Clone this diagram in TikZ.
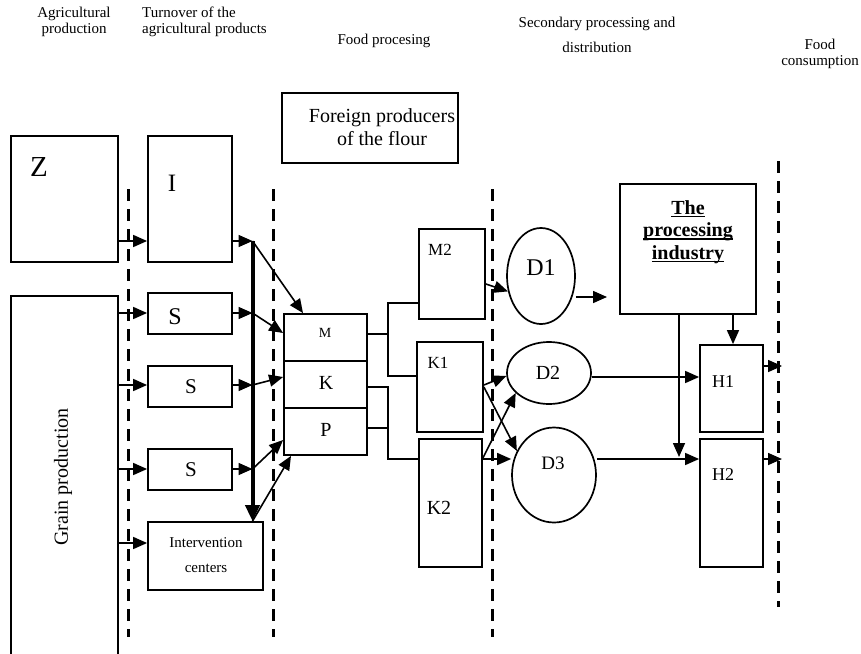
\documentclass[tikz,border=0pt]{standalone}
\usepackage{fontspec}
\setmainfont{Liberation Serif}
\usetikzlibrary{arrows.meta,shapes.geometric}
% underline drawn as a rule under the word
\newcommand\undr[1]{\setbox0\hbox{#1}\rlap{\rule[-3pt]{\wd0}{1.5pt}}\box0}
\begin{document}
\begin{tikzpicture}[x=1pt,y=-1pt,
  box/.style={draw,line width=1.8pt,inner sep=0pt,rectangle},
  oval/.style={draw,line width=1.7pt,inner sep=0pt,ellipse},
  lbl/.style={inner sep=0pt,font=\fontsize{#1}{#1}\selectfont},
  lbl/.default=20,
  conn/.style={line width=1.6pt},
  arr/.style={line width=1.6pt,-{Triangle[length=14pt,width=12pt]}},
  busline/.style={line width=4pt,-{Triangle[length=16pt,width=14pt]}},
  divider/.style={line width=3pt,dash pattern=on 12pt off 8pt},
  head/.style={inner sep=0pt,align=center,font=\fontsize{15}{15.5}\selectfont},
]
\useasboundingbox (0,0) rectangle (861,653);
\clip (0,0) rectangle (861,653);

% ---- stage headings
\node[head] (h1) at (74,22) {Agricultural\\production};
\node[head,align=left,anchor=west] (h2) at (142,22) {Turnover of the\\agricultural products};
\node[head] (h3) at (384,41) {Food procesing};
\node[head,font=\fontsize{15}{25}\selectfont] (h4) at (597,35) {Secondary processing and\\distribution};
\node[head] (h5) at (820,54) {Food\\consumption};

% ---- stage dividers
\draw[divider] (128,189) -- (128,637);
\draw[divider] (273,189) -- (273,637);
\draw[divider] (492,189) -- (492,637);
\draw[divider] (778,161) -- (778,607);

% ---- boxes
\node[box,minimum width=107,minimum height=126] (Z) at (64.5,199) {};
\node[box,minimum width=107,minimum height=420] (G) at (64.5,506) {};
\node[box,minimum width=84,minimum height=126] (I) at (190,199) {};
\node[box,minimum width=84,minimum height=41] (S1) at (190,313.5) {};
\node[box,minimum width=84,minimum height=41] (S2) at (190,386.5) {};
\node[box,minimum width=84,minimum height=41] (S3) at (190,469.5) {};
\node[box,minimum width=115,minimum height=68] (Iv) at (205.5,556) {};
\node[box,minimum width=176,minimum height=70] (F) at (370,128) {};
\node[box,minimum width=83,minimum height=47] (M) at (325.5,337.5) {};
\node[box,minimum width=83,minimum height=47] (K) at (325.5,384.5) {};
\node[box,minimum width=83,minimum height=47] (P) at (325.5,431.5) {};
\node[box,minimum width=66,minimum height=90] (M2) at (452,274) {};
\node[box,minimum width=66,minimum height=90] (K1) at (450,387) {};
\node[box,minimum width=63,minimum height=128] (K2) at (450.5,503) {};
\node[oval,minimum width=68,minimum height=96] (D1) at (541,276) {};
\node[oval,minimum width=84,minimum height=62] (D2) at (549,373) {};
\node[oval,minimum width=84,minimum height=95] (D3) at (554,475) {};
\node[box,minimum width=136,minimum height=130] (Pr) at (688,249) {};
\node[box,minimum width=63,minimum height=87] (H1) at (731.5,388.5) {};
\node[box,minimum width=63,minimum height=128] (H2) at (731.5,503) {};

% ---- texts
\node[lbl=29] (Zt) at (39,167) {Z};
\node[lbl=20,rotate=90] (Gt) at (63,477) {Grain production};
\node[lbl=25] (It) at (172,183) {I};
\node[lbl=24] (S1t) at (175,317) {S};
\node[lbl=21] (S2t) at (191,387) {S};
\node[lbl=21] (S3t) at (191,470) {S};
\node[lbl,align=center,font=\fontsize{15}{25}\selectfont] (Ivt) at (206,555) {Intervention\\centers};
\node[lbl,align=center,font=\fontsize{20}{23}\selectfont] (Ft) at (382,127) {Foreign producers\\of the flour};
\node[lbl=14] (Mt) at (325,333) {M};
\node[lbl=20] (Kt) at (326,383) {K};
\node[lbl=20] (Pt) at (326,430) {P};
\node[lbl=17] (M2t) at (440,250) {M2};
\node[lbl=17] (K1t) at (438,363) {K1};
\node[lbl=20] (K2t) at (439,508) {K2};
\node[lbl=24] (D1t) at (541,268) {D1};
\node[lbl=20] (D2t) at (548,373) {D2};
\node[lbl=19] (D3t) at (553,463) {D3};
\node[lbl=18] (H1t) at (723,382) {H1};
\node[lbl=18] (H2t) at (723,475) {H2};
\node[lbl,align=center,font=\fontsize{20}{22.5}\selectfont\bfseries] (Prt) at (688,232)
  {\undr{The}\\\undr{processing}\\\undr{industry}};

% ---- collecting line
\coordinate (bI)  at (252.5,241);
\coordinate (bS1) at (252.5,313);
\coordinate (bS2) at (252.5,385);
\coordinate (bS3) at (252.5,469);
\coordinate (bEnd) at (bI |- Iv.north);
\draw[busline] (bI) -- (bEnd);

% ---- inputs from agricultural production
\draw[arr] (Z.east |- 0,241) -- (I.west |- 0,241);
\draw[arr] (G.east |- 0,313) -- (S1.west |- 0,313);
\draw[arr] (G.east |- 0,385) -- (S2.west |- 0,385);
\draw[arr] (G.east |- 0,469) -- (S3.west |- 0,469);
\draw[arr] (G.east |- 0,543) -- (Iv.west |- 0,543);

% ---- into the collecting line
\draw[arr] (I.east |- 0,241) -- (bI);
\draw[arr] (S1.east |- 0,313) -- (bS1);
\draw[arr] (S2.east |- 0,385) -- (bS2);
\draw[arr] (S3.east |- 0,469) -- (bS3);

% ---- to the mills
\draw[arr] (bI) -- (M.north -| 303,0);
\draw[arr] (bS1) -- (M.west |- 0,333);
\draw[arr] (bS2) -- (K.west |- 0,377);
\draw[arr] (bS3) -- (P.west |- 0,440);
\draw[arr] (bEnd) -- (P.south -| 291,0);

% ---- mills to secondary processing
\coordinate (jA) at (388,334);
\coordinate (jB) at (388,387);
\draw[conn] (M.east |- jA) -- (jA);
\draw[conn] (M2.west |- 0,303) -- (jA |- 0,303) -- (jA |- 0,376) -- (K1.west |- 0,376);
\draw[conn] (K.east |- jB) -- (jB) -- (jB |- 0,459) -- (K2.west |- 0,459);
\draw[conn] (P.east |- 0,428) -- (jB |- 0,428);

% ---- to distribution
\draw[arr] (M2.east |- 0,284) -- (D1.205);
\draw[arr] (K1.east |- 0,385) -- (D2.184);
\draw[arr] (K1.east |- 0,387) -- (D3.147);
\draw[arr] (K2.east |- 0,458) -- (D2.211);
\draw[arr] (K2.east |- 0,459) -- (D3.west |- 0,459);

% ---- processing industry and consumption
\coordinate (prIn) at (607,297);
\draw[arr] (D1.east |- prIn) -- (prIn);
\draw[arr] (Pr.south -| 733,0) -- (H1.north -| 733,0);
\coordinate (prDrop) at (679,457);
\draw[arr] (Pr.south -| prDrop) -- (prDrop);
\draw[arr] (D2.east |- 0,377) -- (H1.west |- 0,377);
\draw[arr] (D3.east |- 0,459) -- (H2.west |- 0,459);
\coordinate (out1) at (782,366);
\coordinate (out2) at (782,459);
\draw[arr] (H1.east |- out1) -- (out1);
\draw[arr] (H2.east |- out2) -- (out2);
\end{tikzpicture}
\end{document}
